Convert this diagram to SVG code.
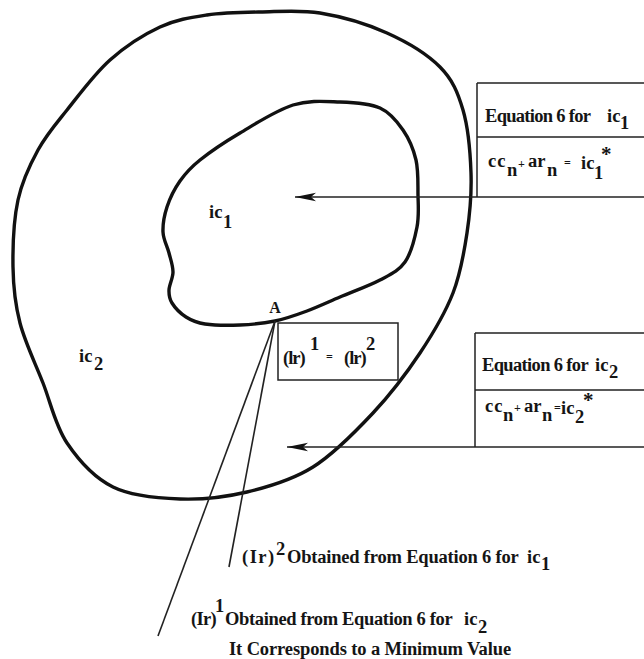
<svg xmlns="http://www.w3.org/2000/svg" width="644" height="659" viewBox="0 0 644 659">
<defs>
<style>
.t{font-family:"Liberation Serif","Times New Roman",serif;font-weight:bold;font-size:18.5px;fill:#151515}
.op{font-size:12px}
.st{font-size:21px}
.curve{fill:none;stroke:#111;stroke-width:3.4;stroke-linejoin:round}
.box{fill:none;stroke:#222;stroke-width:1.5}
.thin{fill:none;stroke:#222;stroke-width:1.6}
</style>
<marker id="ah" markerUnits="userSpaceOnUse" markerWidth="23" markerHeight="10" refX="21" refY="5" orient="auto">
<path d="M0,0.8 L21,5 L0,9.2 L5,5 Z" fill="#111"/>
</marker>
</defs>
<rect width="644" height="659" fill="#fff"/>

<g id="region-ic2">
<path class="curve" d="M207,15 C223.7,12.5 241.2,12.3 260,12 C278.8,11.7 298.8,9.5 320,13 C341.2,16.5 367,24 387,33 C407,42 427.3,54.2 440,67 C452.7,79.8 457.8,92.3 463,110 C468.2,127.7 470.3,152.5 471,173 C471.7,193.5 470,213 467,233 C464,253 460.8,273 453,293 C445.2,313 433.3,333 420,353 C406.7,373 390.8,394 373,413 C355.2,432 334,453.8 313,467 C292,480.2 269.2,486.7 247,492 C224.8,497.3 202.3,499.8 180,499 C157.7,498.2 131.8,496.3 113,487 C94.2,477.7 78.7,460.3 67,443 C55.3,425.7 50.8,403 43,383 C35.2,363 25,342.3 20,323 C15,303.7 13.3,287.5 13,267 C12.7,246.5 13.8,219.5 18,200 C22.2,180.5 29.8,165 38,150 C46.2,135 55,125 67,110 C79,95 94.5,73.8 110,60 C125.5,46.2 143.8,34.5 160,27 C176.2,19.5 190.3,17.5 207,15 Z"/>
<text class="t"><tspan x="79" y="362">ic</tspan><tspan x="94" y="370">2</tspan></text>
</g>

<g id="region-ic1">
<path class="curve" d="M275,321 C263.8,323.3 251.7,324.5 240,325 C228.3,325.5 214,325.3 205,324 C196,322.7 191.5,320.5 186,317 C180.5,313.5 174.8,307.5 172,303 C169.2,298.5 168.8,295.2 169,290 C169.2,284.8 173,278.2 173,272 C173,265.8 170.7,259.7 169,253 C167.3,246.3 163.3,239.7 163,232 C162.7,224.3 164.2,215.5 167,207 C169.8,198.5 174.5,188.8 180,181 C185.5,173.2 190,168 200,160 C210,152 224.5,142.2 240,133 C255.5,123.8 276.3,110.2 293,105 C309.7,99.8 325.5,101.5 340,102 C354.5,102.5 369.5,103.3 380,108 C390.5,112.7 397,121.3 403,130 C409,138.7 413.5,149.2 416,160 C418.5,170.8 417.8,183.8 418,195 C418.2,206.2 419.2,215.8 417,227 C414.8,238.2 411.2,253.2 405,262 C398.8,270.8 390.8,274.2 380,280 C369.2,285.8 352.2,291.8 340,297 C327.8,302.2 317.8,307 307,311 C296.2,315 286.2,318.7 275,321 Z"/>
<text class="t"><tspan x="209" y="218">ic</tspan><tspan x="223" y="228">1</tspan></text>
</g>

<g id="point-A">
<text class="t" x="275" y="313" text-anchor="middle" style="font-size:16px">A</text>
</g>

<g id="box-eq-ic1">
<path class="box" d="M477,83 H644 M477,137 H644 M477,83 V197"/>
<text class="t"><tspan x="485" y="122" style="letter-spacing:-0.7px">Equation 6 for</tspan><tspan x="607" y="122">ic</tspan><tspan x="620" y="129">1</tspan></text>
<text class="t"><tspan x="488" y="167" style="letter-spacing:1px">cc</tspan><tspan x="507" y="176">n</tspan><tspan class="op" x="518" y="168">+</tspan><tspan x="528" y="167">ar</tspan><tspan x="547" y="176">n</tspan><tspan class="op" x="564" y="167">=</tspan><tspan x="581" y="169">ic</tspan><tspan x="594" y="179">1</tspan><tspan class="st" x="601" y="161">*</tspan></text>
</g>

<g id="box-eq-ic2">
<path class="box" d="M475,333 H644 M475,390 H644 M475,333 V447"/>
<text class="t"><tspan x="482" y="371" style="letter-spacing:-0.65px">Equation 6 for</tspan><tspan x="595" y="371">ic</tspan><tspan x="609" y="378">2</tspan></text>
<text class="t"><tspan x="485" y="412" style="letter-spacing:1px">cc</tspan><tspan x="503" y="421">n</tspan><tspan class="op" x="514" y="412">+</tspan><tspan x="524" y="412">ar</tspan><tspan x="542" y="421">n</tspan><tspan class="op" x="554" y="412">=</tspan><tspan x="561" y="414">ic</tspan><tspan x="575" y="423">2</tspan><tspan class="st" x="583" y="407">*</tspan></text>
</g>

<g id="box-lr-equal">
<rect class="box" x="278" y="323" width="120" height="57"/>
<text class="t"><tspan x="283" y="364" style="letter-spacing:-1px">(lr)</tspan><tspan x="310" y="350">1</tspan><tspan class="op" x="326" y="361">=</tspan><tspan x="344" y="364" style="letter-spacing:-1px">(lr)</tspan><tspan x="366" y="350">2</tspan></text>
</g>

<g id="label-lr2">
<text class="t"><tspan x="242" y="563" style="letter-spacing:1.5px">(Ir)</tspan><tspan x="276" y="555">2</tspan><tspan x="287" y="563" style="letter-spacing:-0.2px">Obtained from Equation 6 for</tspan><tspan x="527" y="563">ic</tspan><tspan x="541" y="570">1</tspan></text>
</g>

<g id="label-lr1">
<text class="t"><tspan x="191" y="625" style="letter-spacing:-0.7px">(Ir)</tspan><tspan x="215" y="612">1</tspan><tspan x="225" y="625" style="letter-spacing:-0.35px">Obtained from Equation 6 for</tspan><tspan x="464" y="625">ic</tspan><tspan x="478" y="633">2</tspan></text>
<text class="t" x="229" y="655" style="letter-spacing:-0.12px">It Corresponds to a Minimum Value</text>
</g>

<g id="connectors">
<line class="thin" x1="644" y1="197" x2="295" y2="197" marker-end="url(#ah)"/>
<line class="thin" x1="644" y1="447" x2="287" y2="447" marker-end="url(#ah)"/>
<line class="thin" x1="275" y1="321" x2="158" y2="636"/>
<line class="thin" x1="275" y1="321" x2="229" y2="567"/>
</g>
</svg>
